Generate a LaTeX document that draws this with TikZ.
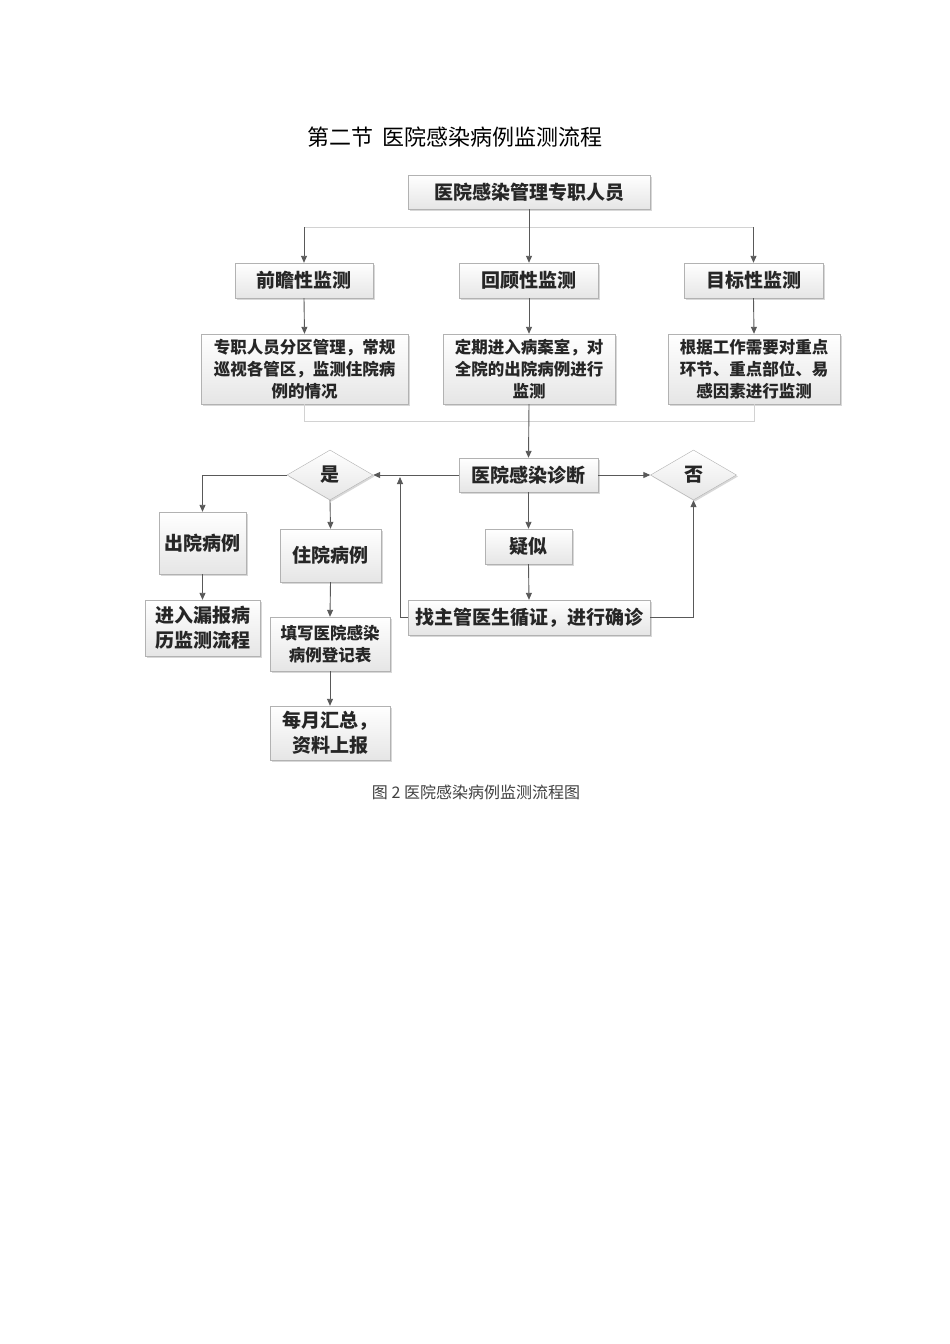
\documentclass[tikz,border=0pt]{standalone}
\usepackage{fontspec}
\newfontfamily\cjk{Noto Sans CJK SC}
\usetikzlibrary{arrows.meta,shapes.geometric,shadows}
\begin{document}
\begin{tikzpicture}[x=1pt,y=-1pt,
  box/.style={draw=gray!60, top color=white, bottom color=gray!20, inner sep=0pt,
    drop shadow={shadow xshift=1.5pt, shadow yshift=-1.5pt, fill=gray!50, opacity=0.6},
    align=center, text=black!85},
  big/.style={font={\cjk\bfseries\fontsize{19}{25}\selectfont}},
  small/.style={font={\cjk\bfseries\fontsize{16.5}{22}\selectfont}},
  dia/.style={box, diamond, aspect=1.72, minimum width=86pt, minimum height=50pt},
  arr/.style={draw=black!65, line width=0.9pt, -{Triangle[length=7pt,width=6pt]}},
  ln/.style={draw=black!65, line width=0.9pt},
  light/.style={draw=gray!35, line width=0.9pt}]
\fill[white] (0,0) rectangle (950,1344);
\useasboundingbox (0,0) rectangle (950,1344);
\node[font={\cjk\fontsize{22}{26}\selectfont}] (title) at (455,137) {第二节\ \ 医院感染病例监测流程};
\node[box,big,minimum width=242pt,minimum height=34pt] (top) at (529,192) {医院感染管理专职人员};
\node[box,big,minimum width=138pt,minimum height=35pt] (b1) at (304,280.5) {前瞻性监测};
\node[box,big,minimum width=139pt,minimum height=35pt] (b2) at (529,280.5) {回顾性监测};
\node[box,big,minimum width=139pt,minimum height=35pt] (b3) at (753.5,280.5) {目标性监测};
\node[box,small,minimum width=207pt,minimum height=70pt] (c1) at (304.5,369) {专职人员分区管理，常规\\巡视各管区，监测住院病\\例的情况};
\node[box,small,minimum width=172pt,minimum height=70pt] (c2) at (529,369) {定期进入病案室，对\\全院的出院病例进行\\监测};
\node[box,small,minimum width=172pt,minimum height=70pt] (c3) at (754,369) {根据工作需要对重点\\环节、重点部位、易\\感因素进行监测};
\node[box,big,minimum width=139pt,minimum height=34pt] (diag) at (528.5,475) {医院感染诊断};
\node[dia,big] (yes) at (330,475) {是};
\node[dia,big] (no) at (693.5,475) {否};
\node[box,big,minimum width=87pt,minimum height=62pt] (out) at (202.5,543) {出院病例};
\node[box,big,minimum width=115pt,minimum height=56pt] (leak) at (202.5,628) {进入漏报病\\历监测流程};
\node[box,big,minimum width=101pt,minimum height=53pt] (inp) at (330.5,555.5) {住院病例};
\node[box,small,minimum width=120pt,minimum height=54pt] (fill) at (330,644) {填写医院感染\\病例登记表};
\node[box,big,minimum width=120pt,minimum height=54pt] (month) at (330,733) {每月汇总，\\资料上报};
\node[box,big,minimum width=87pt,minimum height=35pt] (sus) at (528.5,546.5) {疑似};
\node[box,big,minimum width=242pt,minimum height=35pt] (find) at (529,617.5) {找主管医生循证，进行确诊};
\node[font={\cjk\fontsize{16}{19}\selectfont}, text=black!75] (cap) at (476,792) {图 2 医院感染病例监测流程图};
% connectors
\coordinate (jl) at (304,227);
\coordinate (jr) at (753.5,227);
\coordinate (kl) at (304.5,421);
\coordinate (kr) at (754,421);
\coordinate (up) at (400,477);
\draw[light] (jl) -- (jr);
\draw[arr] (top.south) -- (b2.north);
\draw[arr] (jl) -- (b1.north);
\draw[arr] (jr) -- (b3.north);
\draw[arr] (b1.south) -- (c1.north);
\draw[arr] (b2.south) -- (c2.north);
\draw[arr] (b3.south) -- (c3.north);
\draw[light] (c1.south) -- (kl) -- (kr) -- (c3.south);
\draw[arr] (c2.south) -- (diag.north);
\draw[arr] (diag.west) -- (yes.east);
\draw[arr] (diag.east) -- (no.west);
\draw[arr] (yes.west) -| (out.north);
\draw[arr] (out.south) -- (leak.north);
\draw[arr] (yes.south) -- (inp.north);
\draw[arr] (inp.south) -- (fill.north);
\draw[arr] (fill.south) -- (month.north);
\draw[arr] (diag.south) -- (sus.north);
\draw[arr] (sus.south) -- (find.north);
\draw[arr] (find.west) -- (400,617.5) -- (up);
\draw[arr] (find.east) -| (no.south);
\end{tikzpicture}
\end{document}
